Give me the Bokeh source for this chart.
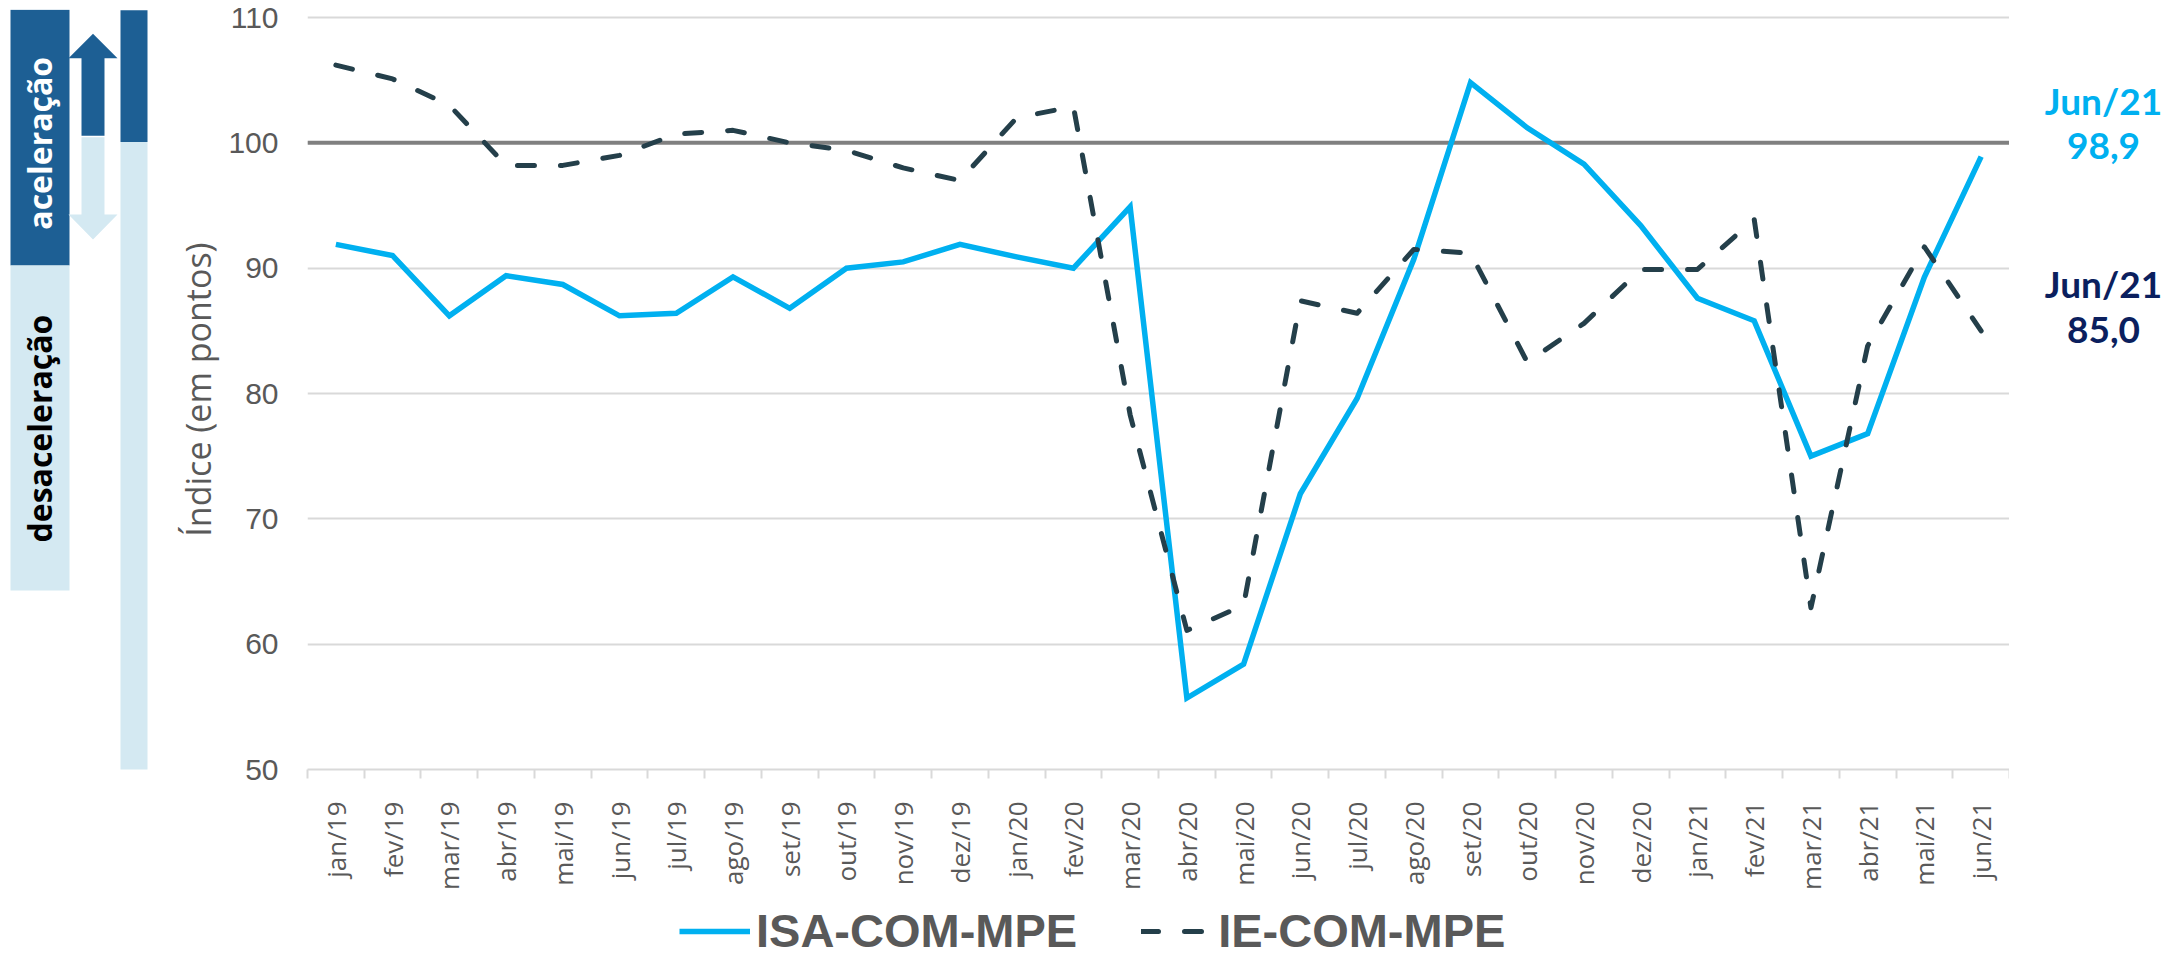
import math
from bokeh.plotting import figure
from bokeh.models import Range1d, FixedTicker, Span, Legend, LegendItem
from bokeh.layouts import row, column
from bokeh.core.properties import value
from bokeh.embed import file_html
from bokeh.resources import INLINE

# ---------------- data ----------------
months = ["jan/19", "fev/19", "mar/19", "abr/19", "mai/19", "jun/19", "jul/19", "ago/19",
          "set/19", "out/19", "nov/19", "dez/19", "jan/20", "fev/20", "mar/20", "abr/20",
          "mai/20", "jun/20", "jul/20", "ago/20", "set/20", "out/20", "nov/20", "dez/20",
          "jan/21", "fev/21", "mar/21", "abr/21", "mai/21", "jun/21"]
isa = [91.9, 91.0, 86.2, 89.4, 88.7, 86.2, 86.4, 89.3, 86.8, 90.0, 90.5, 91.9,
       90.9, 90.0, 94.9, 55.7, 58.4, 72.0, 79.6, 90.7, 104.8, 101.2, 98.3, 93.4,
       87.6, 85.8, 75.0, 76.8, 89.3, 98.9]
ie = [106.2, 105.1, 103.0, 98.2, 98.2, 99.0, 100.7, 101.0, 100.0, 99.4, 98.0, 97.0,
      102.0, 102.9, 78.3, 61.1, 63.1, 87.4, 86.4, 91.5, 91.2, 82.5, 85.6, 89.9,
      89.9, 93.9, 62.9, 83.8, 91.7, 85.0]
series_names = ["ISA-COM-MPE", "IE-COM-MPE"]
y_ticks = [50, 60, 70, 80, 90, 100, 110]
reference_level = 100
last_period = "Jun/21"
last_values_text = ["98,9", "85,0"]
side_texts = ["acelera\u00e7\u00e3o", "desacelera\u00e7\u00e3o"]
y_title = "\u00cdndice (em pontos)"

# ---------------- style ----------------
BLUE = "#00B0F0"
DARK = "#243F4A"
NAVY = "#0B1F5E"
GRAY_TXT = "#595959"
GRID = "#D9D9D9"
DECOR_DARK = "#1D5F94"
DECOR_LIGHT = "#D4E9F2"

W, H = 2177, 958
DECOR_W = 158
MAIN_W = 1851
RIGHT_W = W - DECOR_W - MAIN_W
TOP = 9                 # frame top (all figures in the row share it)
FRAME_BOTTOM = 769
TOP_ROW_H = 894
BOTTOM = TOP_ROW_H - FRAME_BOTTOM
LEGEND_H = H - TOP_ROW_H
Y_TOP_PAD = 0.64        # headroom above the top tick (data units)

xs = list(range(len(months)))
y_range = Range1d(y_ticks[0], y_ticks[-1] + Y_TOP_PAD)
x_range = Range1d(-0.5, len(months) - 0.5)

# ---------------- main chart ----------------
p = figure(width=MAIN_W, height=TOP_ROW_H, x_range=x_range, y_range=y_range,
           output_backend="svg", toolbar_location=None,
           min_border_left=149, min_border_right=0,
           min_border_top=TOP, min_border_bottom=BOTTOM)
p.outline_line_color = None

p.xgrid.grid_line_color = None
p.ygrid.ticker = FixedTicker(ticks=y_ticks)
p.ygrid.grid_line_color = GRID
p.ygrid.grid_line_width = 2

p.add_layout(Span(location=reference_level, dimension="width", line_color="#808080",
                  line_width=4, level="underlay"))

line_isa = dict(line_color=BLUE, line_width=5.5, line_join="miter")
line_ie = dict(line_color=DARK, line_width=5, line_dash="17 26",
               line_cap="round", line_join="round")
p.line(xs, isa, **line_isa)
p.line(xs, ie, **line_ie)

ya = p.yaxis[0]
ya.ticker = FixedTicker(ticks=y_ticks)
ya.axis_line_color = None
ya.major_tick_line_color = None
ya.minor_tick_line_color = None
ya.major_tick_out = 0
ya.major_tick_in = 0
ya.major_label_standoff = 29
ya.major_label_text_font = "Liberation Sans"
ya.major_label_text_font_size = "30px"
ya.major_label_text_color = GRAY_TXT
ya.axis_label = y_title
ya.axis_label_text_font = "Open Sans"
ya.axis_label_text_font_style = "normal"
ya.axis_label_text_font_size = "34px"
ya.axis_label_text_color = GRAY_TXT
ya.axis_label_standoff = 4

xa = p.xaxis[0]
xa.ticker = FixedTicker(ticks=xs, minor_ticks=[i - 0.5 for i in range(len(months) + 1)])
xa.major_label_overrides = {i: m for i, m in enumerate(months)}
xa.major_label_orientation = math.pi / 2
xa.major_tick_line_color = None
xa.major_tick_out = 0
xa.major_tick_in = 0
xa.minor_tick_line_color = GRID
xa.minor_tick_line_width = 2
xa.minor_tick_out = 9
xa.minor_tick_in = 0
xa.axis_line_color = GRID
xa.axis_line_width = 2
xa.major_label_standoff = 23
xa.major_label_text_font = "Open Sans"
xa.major_label_text_font_size = "26px"
xa.major_label_text_color = GRAY_TXT

# ---------------- right labels (last values) ----------------
r = figure(width=RIGHT_W, height=TOP_ROW_H, x_range=Range1d(0, RIGHT_W), y_range=y_range,
           output_backend="svg", toolbar_location=None,
           x_axis_type=None, y_axis_type=None,
           min_border_left=0, min_border_right=0,
           min_border_top=TOP, min_border_bottom=BOTTOM)
r.outline_line_color = None
r.grid.visible = False
label_x = [94, 94]
last_vals = [isa[-1], ie[-1]]
r.text(x=label_x, y=last_vals, text=last_values_text, y_offset=[-11, -1],
       text_align="center", text_baseline="middle", text_font=value("Lato"),
       text_font_style="bold", text_font_size="37px", text_color=[BLUE, NAVY])
r.text(x=label_x, y=last_vals, text=[last_period, last_period], y_offset=[-56, -47],
       text_align="center", text_baseline="middle", text_font=value("Lato"),
       text_font_style="bold", text_font_size="37px", text_color=[BLUE, NAVY])

# ---------------- decor panel (left) ----------------
d = figure(width=DECOR_W, height=TOP_ROW_H, x_range=Range1d(0, DECOR_W),
           y_range=Range1d(50, 110.317),
           output_backend="svg", toolbar_location=None,
           x_axis_type=None, y_axis_type=None,
           min_border_left=0, min_border_right=0, min_border_top=TOP,
           min_border_bottom=BOTTOM)
d.outline_line_color = None
d.grid.visible = False
d.quad(left=[10, 10, 120, 120], right=[69, 69, 147, 147],
       top=[110.3, 90, 110.25, 99.8], bottom=[90, 64.2, 99.8, 49.7],
       fill_color=[DECOR_DARK, DECOR_LIGHT, DECOR_DARK, DECOR_LIGHT], line_color=None)
d.patches(xs=[[81, 104, 104, 117, 92.5, 68, 81], [81, 104, 104, 117, 92.5, 68, 81]],
          ys=[[100.3, 100.3, 106.45, 106.45, 108.4, 106.45, 106.45],
              [100.18, 100.18, 94.05, 94.05, 92.06, 94.05, 94.05]],
          fill_color=[DECOR_DARK, DECOR_LIGHT], line_color=None)
d.text(x=[39, 39], y=[99.7, 77.06], text=side_texts, angle=math.pi / 2,
       text_align="center", text_baseline="middle",
       text_font=value("Open Sans"), text_font_style="bold", text_font_size="32px",
       text_color=["white", "black"])

# ---------------- legend strip ----------------
lg = figure(width=W, height=LEGEND_H, x_range=Range1d(0, W), y_range=Range1d(0, LEGEND_H),
            output_backend="svg", toolbar_location=None,
            x_axis_type=None, y_axis_type=None, min_border=0)
lg.outline_line_color = None
lg.grid.visible = False
nan = float("nan")
g1 = lg.line(x=[nan], y=[nan], **line_isa)
g2 = lg.line(x=[nan], y=[nan], **line_ie)
legend = Legend(items=[LegendItem(label=series_names[0], renderers=[g1]),
                       LegendItem(label=series_names[1], renderers=[g2])],
                orientation="horizontal", location=(679, 0),
                padding=0, margin=0, border_line_color=None,
                background_fill_alpha=0, glyph_width=71, glyph_height=20,
                label_standoff=6, spacing=64,
                label_text_font="Liberation Sans", label_text_font_style="bold",
                label_text_font_size="47px", label_text_color=GRAY_TXT)
lg.add_layout(legend, "center")

layout = column(row(d, p, r), lg)
open("out.html", "w").write(file_html(layout, INLINE))
